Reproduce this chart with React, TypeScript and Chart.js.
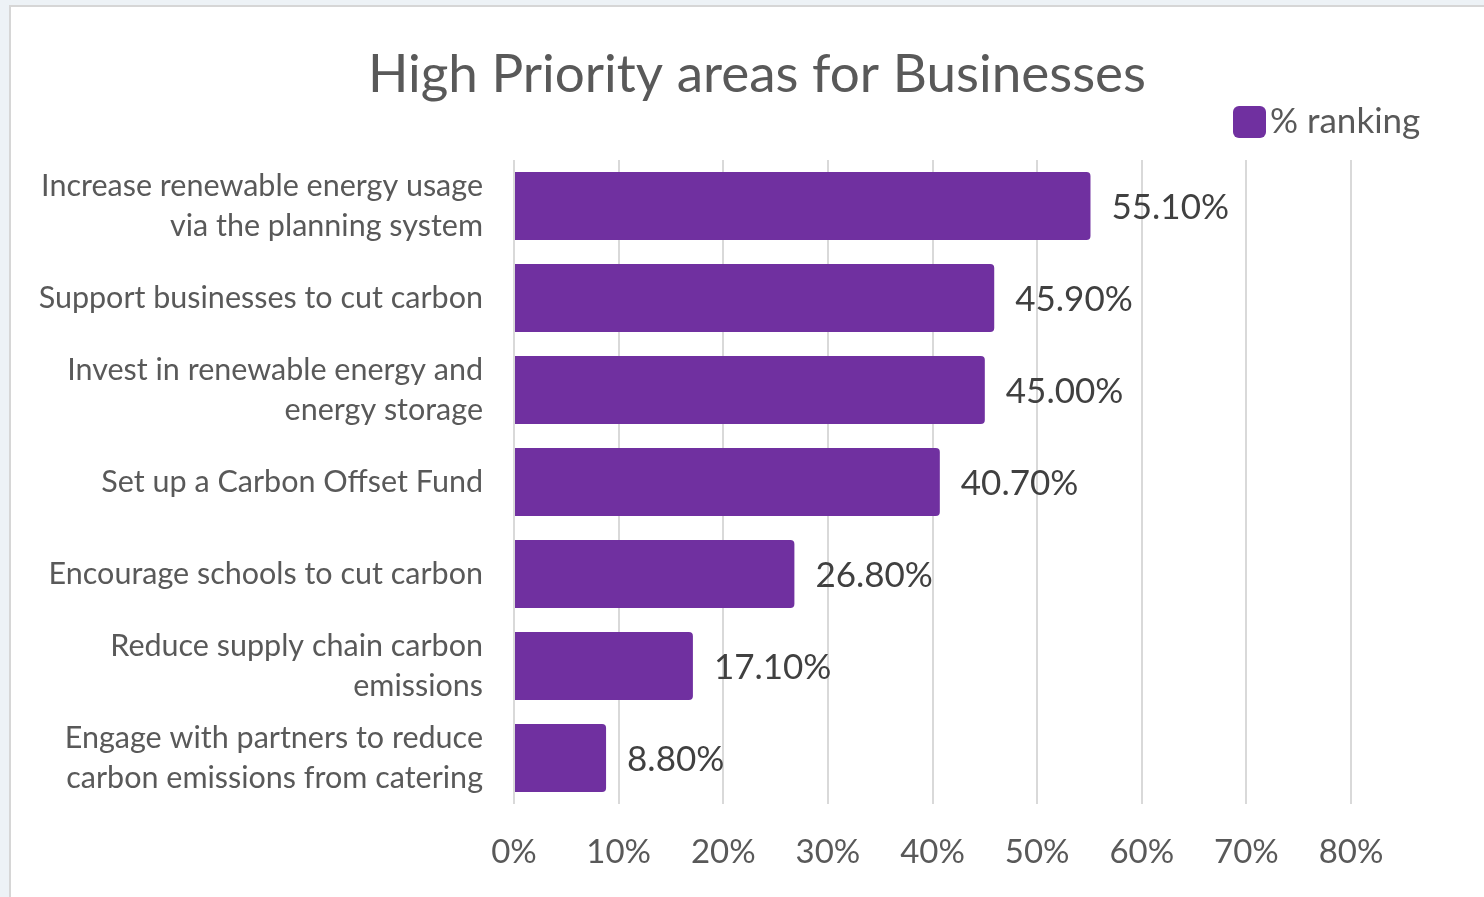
import React, { useEffect, useRef } from "react";
import { Chart, registerables } from "chart.js";

Chart.register(...registerables);

const TITLE = "High Priority areas for Businesses";
const SERIES_NAME = "% ranking";
const CATEGORIES: (string | string[])[] = [
  ["Increase renewable energy usage", "via the planning system"],
  "Support businesses to cut carbon",
  ["Invest in renewable energy and", "energy storage"],
  "Set up a Carbon Offset Fund",
  "Encourage schools to cut carbon",
  ["Reduce supply chain carbon", "emissions"],
  ["Engage with partners to reduce", "carbon emissions from catering"],
];
const VALUES = [55.1, 45.9, 45.0, 40.7, 26.8, 17.1, 8.8];
const X_MIN = 0;
const X_MAX = 80;
const X_STEP = 10;

const FONT = "Lato, 'Open Sans', sans-serif";
const TEXT = "#595959";
const BAR = "#7030a0";

const W = 1484;
const H = 897;

export default function App() {
  const ref = useRef<HTMLCanvasElement | null>(null);

  useEffect(() => {
    const canvas = ref.current;
    if (!canvas) return;

    const decor = {
      id: "decor",
      beforeDraw(chart: any) {
        const ctx = chart.ctx;
        ctx.save();
        ctx.fillStyle = "#edf2f6";
        ctx.fillRect(0, 0, W, H);
        ctx.fillStyle = "#ffffff";
        ctx.fillRect(9, 5, W, H);
        ctx.strokeStyle = "#d6d6d6";
        ctx.lineWidth = 2;
        ctx.beginPath();
        ctx.moveTo(10, H);
        ctx.lineTo(10, 6);
        ctx.lineTo(W, 6);
        ctx.stroke();
        // title
        ctx.fillStyle = TEXT;
        ctx.font = `53px ${FONT}`;
        ctx.textAlign = "center";
        ctx.textBaseline = "middle";
        ctx.fillText(TITLE, 757, 75);
        // legend
        ctx.fillStyle = BAR;
        ctx.beginPath();
        (ctx as any).roundRect(1233, 106, 33, 32, 6);
        ctx.fill();
        ctx.fillStyle = TEXT;
        ctx.font = `35px ${FONT}`;
        ctx.textAlign = "left";
        ctx.fillText(SERIES_NAME, 1270, 122);
        ctx.restore();
      },
      afterDatasetsDraw(chart: any) {
        const ctx = chart.ctx;
        const meta = chart.getDatasetMeta(0);
        ctx.save();
        ctx.fillStyle = "#404040";
        ctx.font = `35px ${FONT}`;
        ctx.textAlign = "left";
        ctx.textBaseline = "middle";
        meta.data.forEach((bar: any, i: number) => {
          const v = chart.data.datasets[0].data[i] as number;
          ctx.fillText(v.toFixed(2) + "%", bar.x + 21, bar.y + 2);
        });
        ctx.restore();
      },
    };

    const chart = new Chart(canvas, {
      type: "bar",
      data: {
        labels: CATEGORIES as any,
        datasets: [
          {
            label: SERIES_NAME,
            data: VALUES,
            backgroundColor: BAR,
            borderRadius: 4,
            barPercentage: 0.74,
            categoryPercentage: 1,
          },
        ],
      },
      options: {
        indexAxis: "y",
        responsive: false,
        animation: false,
        devicePixelRatio: 1,
        layout: { padding: { top: 160, left: 20, right: 133, bottom: 0 } },
        plugins: {
          legend: { display: false },
          title: { display: false },
          tooltip: { enabled: false },
        },
        scales: {
          x: {
            min: X_MIN,
            max: X_MAX,
            ticks: {
              stepSize: X_STEP,
              padding: 29,
              color: TEXT,
              font: { family: FONT, size: 33 },
              callback: (v: any) => `${v}%`,
            },
            grid: { color: "#d9d9d9", lineWidth: 2, drawTicks: false },
            border: { display: false },
            afterFit: (s: any) => {
              s.height = 93;
            },
          },
          y: {
            ticks: {
              padding: 31,
              color: TEXT,
              font: { family: FONT, size: 30.5, lineHeight: 1.31 },
            },
            grid: { display: false, drawTicks: false },
            border: { display: false },
            afterFit: (s: any) => {
              s.width = 494;
            },
          },
        },
      },
      plugins: [decor],
    });

    return () => chart.destroy();
  }, []);

  return (
    <div style={{ position: "fixed", left: 0, top: 0, width: W, height: H }}>
      <canvas ref={ref} width={W} height={H} style={{ display: "block" }} />
    </div>
  );
}
